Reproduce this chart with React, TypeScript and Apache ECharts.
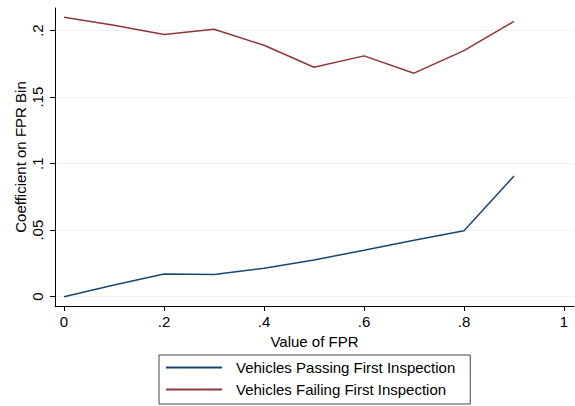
import React, { useEffect, useRef } from "react";
import * as echarts from "echarts";

const fprBins = [0, 0.1, 0.2, 0.3, 0.4, 0.5, 0.6, 0.7, 0.8, 0.9];
const passingCoef = [0.0, 0.0088, 0.0171, 0.0166, 0.0213, 0.0276, 0.0349, 0.0424, 0.0496, 0.0907];
const failingCoef = [0.21, 0.204, 0.197, 0.201, 0.189, 0.1725, 0.181, 0.168, 0.185, 0.207];
const xTicks = [0, 0.2, 0.4, 0.6, 0.8, 1];
const yTicks = [0, 0.05, 0.1, 0.15, 0.2];
const seriesNames = ["Vehicles Passing First Inspection", "Vehicles Failing First Inspection"];

const fmt = (v: number) => {
  if (v === 0) return "0";
  if (v === 1) return "1";
  const s = String(Math.round(v * 1000) / 1000);
  return s.replace(/^0\./, ".");
};

const FONT = "'Liberation Sans', Arial, Helvetica, sans-serif";
const FS = 15;

export default function App() {
  const ref = useRef<HTMLDivElement>(null);
  useEffect(() => {
    if (!ref.current) return;
    const chart = echarts.init(ref.current, null, { renderer: "svg" });
    chart.setOption({
      animation: false,
      backgroundColor: "#ffffff",
      textStyle: { fontFamily: FONT },
      grid: { left: 55, right: 1, top: 8, bottom: 100, containLabel: false },
      xAxis: {
        type: "value",
        min: -0.018,
        max: 1.02,
        name: "Value of FPR",
        nameLocation: "middle",
        nameGap: 21,
        nameTextStyle: { fontSize: FS, color: "#000", fontFamily: FONT },
        axisLine: { show: true, onZero: false, lineStyle: { color: "#000", width: 1 } },
        axisTick: { show: true, length: 5, lineStyle: { color: "#000" }, customValues: xTicks },
        axisLabel: {
          customValues: xTicks,
          formatter: (v: number) => fmt(v),
          fontSize: FS,
          color: "#000",
          margin: 8,
          fontFamily: FONT,
        },
        splitLine: { show: false },
      },
      yAxis: {
        type: "value",
        min: -0.007,
        max: 0.217,
        name: "Coefficient on FPR Bin",
        nameLocation: "middle",
        nameGap: 27,
        nameMoveOverlap: false,
        nameRotate: 90,
        nameTextStyle: { fontSize: FS, color: "#000", fontFamily: FONT },
        axisLine: { show: true, onZero: false, lineStyle: { color: "#000", width: 1 } },
        axisTick: { show: true, length: 5, lineStyle: { color: "#000" }, customValues: yTicks },
        axisLabel: {
          customValues: yTicks,
          formatter: (v: number) => fmt(v),
          fontSize: FS,
          color: "#000",
          rotate: 90,
          margin: 10,
          fontFamily: FONT,
        },
        splitLine: { show: true, lineStyle: { color: "#EAF2F3", width: 1 } },
      },
      legend: {
        orient: "vertical",
        left: 159,
        top: 355,
        data: seriesNames,
        icon: "rect",
        itemWidth: 56,
        itemHeight: 2,
        itemGap: 7,
        padding: [5, 15, 7, 7],
        borderColor: "#444",
        borderWidth: 1,
        textStyle: { fontSize: FS, color: "#000", fontFamily: FONT, padding: [0, 0, 0, 9] },
      },
      series: [
        {
          name: seriesNames[0],
          type: "line",
          data: fprBins.map((x, i) => [x, passingCoef[i]]),
          symbol: "none",
          lineStyle: { color: "#1A476F", width: 1.5 },
          itemStyle: { color: "#1A476F" },
        },
        {
          name: seriesNames[1],
          type: "line",
          data: fprBins.map((x, i) => [x, failingCoef[i]]),
          symbol: "none",
          lineStyle: { color: "#90353B", width: 1.5 },
          itemStyle: { color: "#90353B" },
        },
      ],
    });
    return () => chart.dispose();
  }, []);
  return (
    <div
      ref={ref}
      style={{ position: "fixed", left: 0, top: 0, width: 575, height: 406, background: "#fff" }}
    />
  );
}
